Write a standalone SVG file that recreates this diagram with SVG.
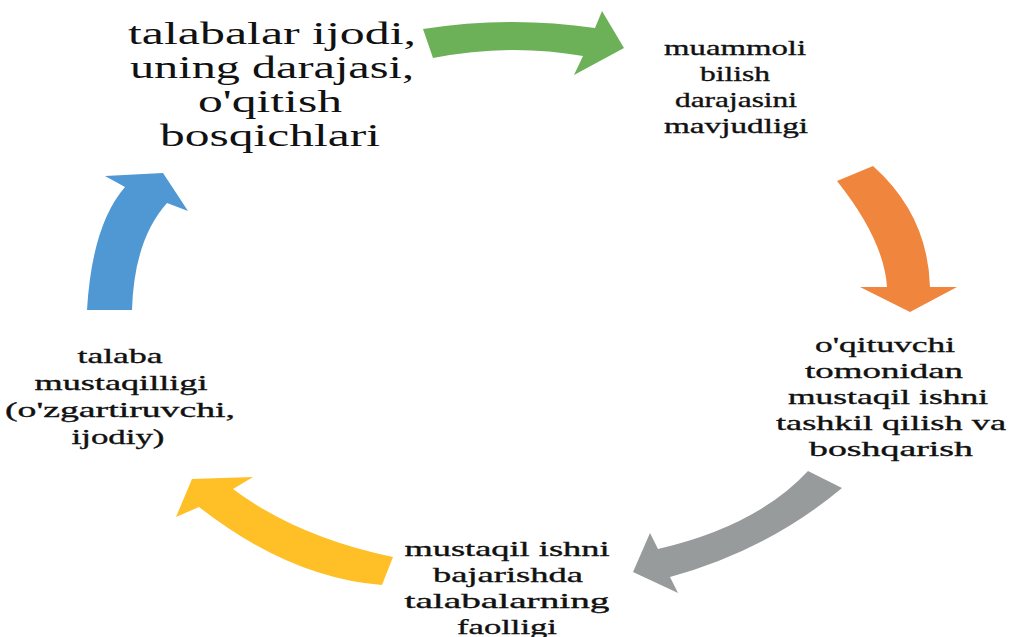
<svg xmlns="http://www.w3.org/2000/svg" width="1011" height="637" viewBox="0 0 1011 637">
<style>
text{font-family:"Liberation Serif","Times New Roman",serif;fill:#111;text-anchor:middle}
.big{font-size:32px}
.sm{font-size:22px;stroke:#111;stroke-width:0.35px}
</style>
<rect width="1011" height="637" fill="#fff"/>
<g id="connectors">
<path id="green" fill="#6CB057" d="M423 29 Q510 15.5 595 28 L602 11 L624 48 L574 75 L583 56 Q510 43 433 58 Z"/>
<path id="orange" fill="#F0863D" d="M837 181 L873 166 Q928 215 930 287 L957 287 L910 312 L860 287 L887 287 Q884 240 837 181 Z"/>
<path id="gray" fill="#989B9C" d="M808 471 L842 488 Q768 550 670 577 L678 593 L633 572 L650 533 L658 549 Q757 526 808 471 Z"/>
<path id="yellow" fill="#FEBF27" d="M393 557 L382 585 Q290 578 199 507 L176 517 L192 479 L253 477 L233 489 Q297 537 393 557 Z"/>
<path id="blue" fill="#5098D3" d="M87 310 Q92 225 125 187 L105 176 L163 173 L188 211 L167 203 Q134 240 132 310 Z"/>
</g>
<g id="node-top">
<text class="big" x="272" y="44" textLength="288" lengthAdjust="spacingAndGlyphs">talabalar ijodi,</text>
<text class="big" x="272" y="78" textLength="284" lengthAdjust="spacingAndGlyphs">uning darajasi,</text>
<text class="big" x="270" y="112" textLength="144" lengthAdjust="spacingAndGlyphs">o'qitish</text>
<text class="big" x="270" y="146" textLength="220" lengthAdjust="spacingAndGlyphs">bosqichlari</text>
</g>
<g id="node-right-top">
<text class="sm" x="735" y="55" textLength="142" lengthAdjust="spacingAndGlyphs">muammoli</text>
<text class="sm" x="735" y="81" textLength="70" lengthAdjust="spacingAndGlyphs">bilish</text>
<text class="sm" x="736" y="107" textLength="122" lengthAdjust="spacingAndGlyphs">darajasini</text>
<text class="sm" x="736" y="133" textLength="144" lengthAdjust="spacingAndGlyphs">mavjudligi</text>
</g>
<g id="node-right-bottom">
<text class="sm" x="885" y="352" textLength="140" lengthAdjust="spacingAndGlyphs">o'qituvchi</text>
<text class="sm" x="884" y="378" textLength="158" lengthAdjust="spacingAndGlyphs">tomonidan</text>
<text class="sm" x="888" y="404" textLength="200" lengthAdjust="spacingAndGlyphs">mustaqil ishni</text>
<text class="sm" x="891" y="430" textLength="230" lengthAdjust="spacingAndGlyphs">tashkil qilish va</text>
<text class="sm" x="891" y="456" textLength="164" lengthAdjust="spacingAndGlyphs">boshqarish</text>
</g>
<g id="node-bottom">
<text class="sm" x="507" y="556" textLength="205" lengthAdjust="spacingAndGlyphs">mustaqil ishni</text>
<text class="sm" x="508" y="582" textLength="150" lengthAdjust="spacingAndGlyphs">bajarishda</text>
<text class="sm" x="507" y="608" textLength="205" lengthAdjust="spacingAndGlyphs">talabalarning</text>
<text class="sm" x="507" y="634" textLength="100" lengthAdjust="spacingAndGlyphs">faolligi</text>
</g>
<g id="node-left">
<text class="sm" x="120" y="363" textLength="85" lengthAdjust="spacingAndGlyphs">talaba</text>
<text class="sm" x="121" y="390" textLength="173" lengthAdjust="spacingAndGlyphs">mustaqilligi</text>
<text class="sm" x="120" y="417" textLength="230" lengthAdjust="spacingAndGlyphs">(o'zgartiruvchi,</text>
<text class="sm" x="118" y="444" textLength="93" lengthAdjust="spacingAndGlyphs">ijodiy)</text>
</g>
</svg>
